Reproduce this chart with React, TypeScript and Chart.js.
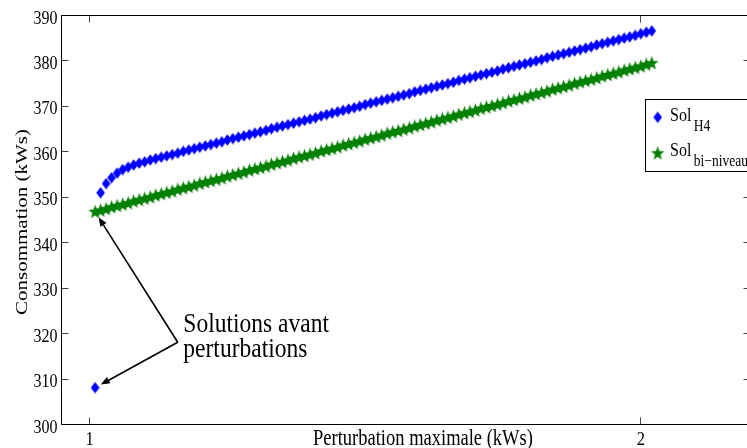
import React, { useEffect, useRef } from "react";
import { Chart, registerables } from "chart.js";

Chart.register(...registerables);

// Perturbation maximale (kWs) — sampled points
const perturbations = [
  1.01, 1.02, 1.03, 1.04, 1.05, 1.06, 1.07, 1.08, 1.09, 1.1,
  1.11, 1.12, 1.13, 1.14, 1.15, 1.16, 1.17, 1.18, 1.19, 1.2,
  1.21, 1.22, 1.23, 1.24, 1.25, 1.26, 1.27, 1.28, 1.29, 1.3,
  1.31, 1.32, 1.33, 1.34, 1.35, 1.36, 1.37, 1.38, 1.39, 1.4,
  1.41, 1.42, 1.43, 1.44, 1.45, 1.46, 1.47, 1.48, 1.49, 1.5,
  1.51, 1.52, 1.53, 1.54, 1.55, 1.56, 1.57, 1.58, 1.59, 1.6,
  1.61, 1.62, 1.63, 1.64, 1.65, 1.66, 1.67, 1.68, 1.69, 1.7,
  1.71, 1.72, 1.73, 1.74, 1.75, 1.76, 1.77, 1.78, 1.79, 1.8,
  1.81, 1.82, 1.83, 1.84, 1.85, 1.86, 1.87, 1.88, 1.89, 1.9,
  1.91, 1.92, 1.93, 1.94, 1.95, 1.96, 1.97, 1.98, 1.99, 2.0,
  2.01, 2.02,
];

// Sol_H4 before perturbation (at the first perturbation value)
const solH4Before = [308.0];

// Sol_H4 for perturbations[1..]
const solH4 = [
  350.9, 352.9, 354.2, 355.2, 356.0, 356.5, 357.0, 357.4, 357.7, 358.1,
  358.4, 358.7, 359.0, 359.3, 359.6, 360.0, 360.3, 360.6, 360.9, 361.2,
  361.5, 361.8, 362.1, 362.5, 362.8, 363.1, 363.4, 363.7, 364.0, 364.3,
  364.6, 365.0, 365.3, 365.6, 365.9, 366.2, 366.5, 366.8, 367.1, 367.4,
  367.8, 368.1, 368.4, 368.7, 369.0, 369.3, 369.6, 369.9, 370.3, 370.6,
  370.9, 371.2, 371.5, 371.8, 372.1, 372.4, 372.7, 373.1, 373.4, 373.7,
  374.0, 374.3, 374.6, 374.9, 375.2, 375.6, 375.9, 376.2, 376.5, 376.8,
  377.1, 377.4, 377.7, 378.1, 378.4, 378.7, 379.0, 379.3, 379.6, 379.9,
  380.2, 380.6, 380.9, 381.2, 381.5, 381.8, 382.1, 382.4, 382.7, 383.0,
  383.4, 383.7, 384.0, 384.3, 384.6, 384.9, 385.2, 385.5, 385.9, 386.2,
  386.5,
];

// Sol_bi-niveau for all perturbations
const solBiNiveau = [
  346.7, 347.0, 347.3, 347.7, 348.0, 348.3, 348.6, 349.0, 349.3, 349.6,
  349.9, 350.3, 350.6, 350.9, 351.2, 351.6, 351.9, 352.2, 352.5, 352.9,
  353.2, 353.5, 353.8, 354.1, 354.5, 354.8, 355.1, 355.4, 355.8, 356.1,
  356.4, 356.7, 357.1, 357.4, 357.7, 358.0, 358.4, 358.7, 359.0, 359.3,
  359.6, 360.0, 360.3, 360.6, 360.9, 361.3, 361.6, 361.9, 362.2, 362.6,
  362.9, 363.2, 363.5, 363.9, 364.2, 364.5, 364.8, 365.1, 365.5, 365.8,
  366.1, 366.4, 366.8, 367.1, 367.4, 367.7, 368.1, 368.4, 368.7, 369.0,
  369.4, 369.7, 370.0, 370.3, 370.6, 371.0, 371.3, 371.6, 371.9, 372.3,
  372.6, 372.9, 373.2, 373.6, 373.9, 374.2, 374.5, 374.9, 375.2, 375.5,
  375.8, 376.1, 376.5, 376.8, 377.1, 377.4, 377.8, 378.1, 378.4, 378.7,
  379.1, 379.4,
];

const xTicks = [1, 2];
const yTicks = [300, 310, 320, 330, 340, 350, 360, 370, 380, 390];
const xRange = [0.95, 2.2];
const yRange = [300, 390];

const xTitle = "Perturbation maximale (kWs)";
const yTitle = "Consommation (kWs)";
const annotationLines = ["Solutions avant", "perturbations"];
const annotationAnchor = { x: 1.16, y: 318.0 };
const legendMain = ["Sol", "Sol"];
const legendSub = ["H4", "bi\u2212niveau"];

const BLUE = "#0000ff";
const GREEN = "#008000";
const FONT = '"Liberation Serif", "Times New Roman", serif';
const VS = 1.2; // vertical stretch of the original rendering

function makeDiamond(): HTMLCanvasElement {
  const c = document.createElement("canvas");
  c.width = 9;
  c.height = 12;
  const g = c.getContext("2d")!;
  g.fillStyle = BLUE;
  g.beginPath();
  g.moveTo(4.5, 0.3);
  g.lineTo(8.8, 6);
  g.lineTo(4.5, 11.7);
  g.lineTo(0.2, 6);
  g.closePath();
  g.fill();
  return c;
}

function makeStar(): HTMLCanvasElement {
  const c = document.createElement("canvas");
  c.width = 15;
  c.height = 16;
  const g = c.getContext("2d")!;
  g.fillStyle = GREEN;
  const cx = 7.5, cy = 8.4, R = 7.1, r = 2.9, sy = 1.08;
  g.beginPath();
  for (let k = 0; k < 10; k++) {
    const a = -Math.PI / 2 + (k * Math.PI) / 5;
    const rad = k % 2 === 0 ? R : r;
    const px = cx + rad * Math.cos(a);
    const py = cy + rad * Math.sin(a) * sy;
    if (k === 0) g.moveTo(px, py);
    else g.lineTo(px, py);
  }
  g.closePath();
  g.fill();
  return c;
}

function txt(
  ctx: CanvasRenderingContext2D,
  s: string,
  x: number,
  y: number,
  size: number,
  align: CanvasTextAlign = "left",
  rotate = false
) {
  ctx.save();
  ctx.translate(x, y);
  ctx.scale(1, VS);
  if (rotate) ctx.rotate(-Math.PI / 2);
  ctx.font = `${size}px ${FONT}`;
  ctx.textAlign = align;
  ctx.textBaseline = "alphabetic";
  ctx.fillStyle = "#000";
  ctx.fillText(s, 0, 0);
  ctx.restore();
}

function measure(ctx: CanvasRenderingContext2D, s: string, size: number) {
  ctx.save();
  ctx.font = `${size}px ${FONT}`;
  const w = ctx.measureText(s).width;
  ctx.restore();
  return w;
}

function arrow(
  ctx: CanvasRenderingContext2D,
  x0: number,
  y0: number,
  x1: number,
  y1: number
) {
  const dx = x1 - x0, dy = y1 - y0;
  const len = Math.hypot(dx, dy);
  const ux = dx / len, uy = dy / len;
  const hl = 9, hw = 3.6;
  const bx = x1 - ux * hl, by = y1 - uy * hl;
  ctx.beginPath();
  ctx.moveTo(x0, y0);
  ctx.lineTo(bx, by);
  ctx.stroke();
  ctx.beginPath();
  ctx.moveTo(x1, y1);
  ctx.lineTo(bx - uy * hw, by + ux * hw);
  ctx.lineTo(bx + uy * hw, by - ux * hw);
  ctx.closePath();
  ctx.fill();
}

export default function App() {
  const ref = useRef<HTMLCanvasElement>(null);

  useEffect(() => {
    const canvas = ref.current!;
    const diamond = makeDiamond();
    const star = makeStar();

    const decor = {
      id: "decor",
      afterDraw(chart: any) {
        const ctx: CanvasRenderingContext2D = chart.ctx;
        const { left, right, top, bottom } = chart.chartArea;
        const xs = chart.scales.x;
        const ys = chart.scales.y;
        const L = Math.round(left) - 0.5;
        const R = Math.round(right) - 0.5;
        const T = Math.round(top) + 0.5;
        const B = Math.round(bottom) + 0.5;

        ctx.save();
        // ticks (inward)
        ctx.strokeStyle = "#444";
        ctx.lineWidth = 1;
        ctx.beginPath();
        yTicks.forEach((v) => {
          const py = Math.round(ys.getPixelForValue(v)) + 0.5;
          ctx.moveTo(L, py);
          ctx.lineTo(L + 7, py);
          ctx.moveTo(R, py);
          ctx.lineTo(R - 7, py);
        });
        xTicks.forEach((v) => {
          const px = Math.round(xs.getPixelForValue(v)) - 0.5;
          ctx.moveTo(px, B);
          ctx.lineTo(px, B - 7);
          ctx.moveTo(px, T);
          ctx.lineTo(px, T + 7);
        });
        ctx.stroke();

        // axes box
        ctx.strokeStyle = "#000";
        ctx.beginPath();
        ctx.rect(L, T, R - L, B - T);
        ctx.stroke();

        // tick labels
        yTicks.forEach((v) => {
          const py = ys.getPixelForValue(v);
          txt(ctx, String(v), 57.5, py + 8.6, 16, "right");
        });
        xTicks.forEach((v) => {
          const px = xs.getPixelForValue(v);
          txt(ctx, String(v), px, 445, 16.5, "center");
        });

        // axis titles
        txt(ctx, xTitle, 423, 445, 18.5, "center");
        txt(ctx, yTitle, 27, 222, 17.5, "center", true);

        // annotation
        const vx = xs.getPixelForValue(annotationAnchor.x);
        const vy = ys.getPixelForValue(annotationAnchor.y);
        ctx.strokeStyle = "#000";
        ctx.fillStyle = "#000";
        ctx.lineWidth = 1.6;
        const targets = [
          { x: perturbations[0], y: solBiNiveau[0] },
          { x: perturbations[0], y: solH4Before[0] },
        ];
        targets.forEach((t) => {
          const tx = xs.getPixelForValue(t.x);
          const ty = ys.getPixelForValue(t.y);
          const dx = vx - tx, dy = vy - ty;
          const d = Math.hypot(dx, dy);
          const hx = tx + (dx / d) * 6.5;
          const hy = ty + (dy / d) * 6.5;
          arrow(ctx, vx, vy, hx, hy);
        });
        txt(ctx, annotationLines[0], vx + 5.6, vy - 10.6, 23.5, "left");
        txt(ctx, annotationLines[1], vx + 5.6, vy + 14.4, 23.5, "left");

        // legend
        ctx.lineWidth = 1;
        ctx.fillStyle = "#fff";
        ctx.strokeStyle = "#000";
        ctx.fillRect(645.5, 99.5, 200, 72);
        ctx.strokeRect(645.5, 99.5, 200, 72);
        ctx.drawImage(diamond, 657.7 - diamond.width / 2, 117.3 - diamond.height / 2);
        ctx.drawImage(star, 657.7 - star.width / 2, 153.3 - star.height / 2);
        const baseY = [120.7, 156.2];
        const subY = [130.9, 166.0];
        for (let i = 0; i < 2; i++) {
          txt(ctx, legendMain[i], 670, baseY[i], 16, "left");
          const w = measure(ctx, legendMain[i], 16);
          txt(ctx, legendSub[i], 670 + w + 2.5, subY[i], 13.5, "left");
        }
        ctx.restore();
      },
    };

    const chart = new Chart(canvas, {
      type: "scatter",
      data: {
        datasets: [
          {
            label: "Sol_H4",
            data: perturbations.slice(1).map((x, i) => ({ x, y: solH4[i] })),
            pointStyle: diamond as any,
            pointRadius: 5,
            showLine: false,
          },
          {
            label: "Sol_H4 avant",
            data: [{ x: perturbations[0], y: solH4Before[0] }],
            pointStyle: diamond as any,
            pointRadius: 5,
            showLine: false,
          },
          {
            label: "Sol_bi-niveau",
            data: perturbations.map((x, i) => ({ x, y: solBiNiveau[i] })),
            pointStyle: star as any,
            pointRadius: 6,
            showLine: false,
          },
        ],
      },
      options: {
        animation: false,
        responsive: false,
        maintainAspectRatio: false,
        events: [],
        layout: { padding: { top: 15, right: 9, left: 0, bottom: 0 }, autoPadding: false } as any,
        plugins: { legend: { display: false }, tooltip: { enabled: false } },
        scales: {
          x: {
            type: "linear",
            min: xRange[0],
            max: xRange[1],
            grid: { display: false, drawTicks: false },
            border: { display: false },
            ticks: { display: false },
            afterFit: (s: any) => {
              s.height = 24;
            },
          },
          y: {
            type: "linear",
            min: yRange[0],
            max: yRange[1],
            grid: { display: false, drawTicks: false },
            border: { display: false },
            ticks: { display: false },
            afterFit: (s: any) => {
              s.width = 62;
            },
          },
        },
      },
      plugins: [decor],
    });

    return () => chart.destroy();
  }, []);

  return (
    <div
      style={{
        position: "fixed",
        left: 0,
        top: 0,
        width: 747,
        height: 448,
        overflow: "hidden",
        background: "#fff",
      }}
    >
      <canvas
        ref={ref}
        width={760}
        height={448}
        style={{ display: "block", width: 760, height: 448 }}
      />
    </div>
  );
}
